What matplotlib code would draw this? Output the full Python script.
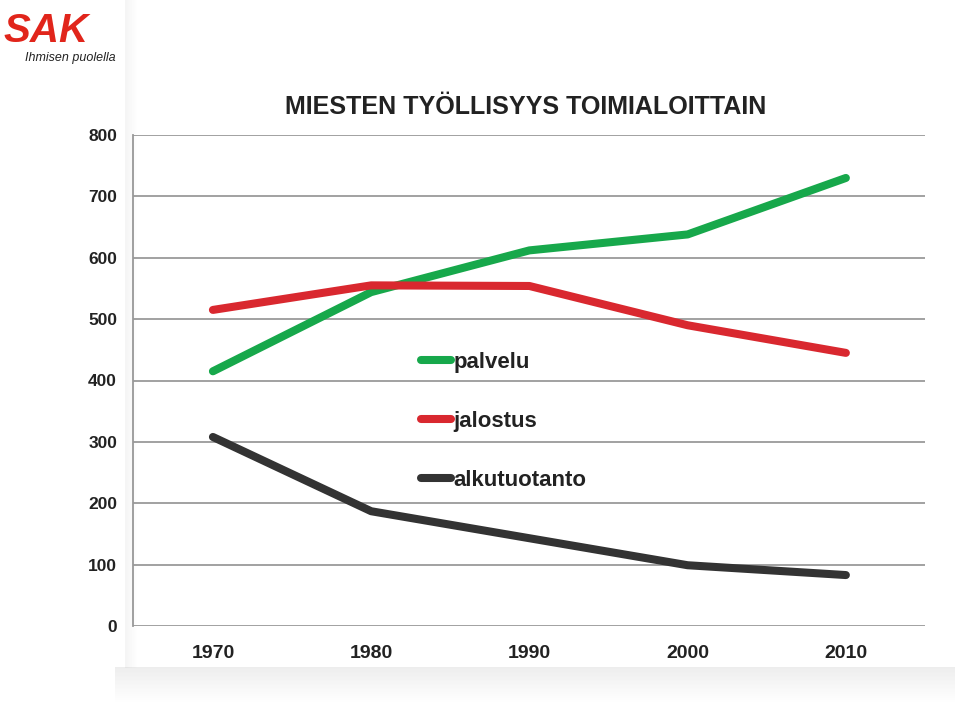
import matplotlib
matplotlib.use("Agg")
import matplotlib.pyplot as plt
from matplotlib.patches import Rectangle
import numpy as np

years = [1970, 1980, 1990, 2000, 2010]
palvelu = [415, 544, 612, 638, 730]
jalostus = [515, 555, 554, 490, 445]
alkutuotanto = [308, 187, 143, 99, 83]
series_names = ["palvelu", "jalostus", "alkutuotanto"]
y_ticks = [0, 100, 200, 300, 400, 500, 600, 700, 800]
title = "MIESTEN TYÖLLISYYS TOIMIALOITTAIN"

colors = ["#17a84b", "#d9282f", "#333333"]

plt.rcParams['font.family'] = ['Liberation Sans', 'DejaVu Sans']

fig = plt.figure(figsize=(9.6, 7.12), dpi=100)
fig.patch.set_facecolor("white")

# paper shadow decorations (figure coords)
W, H = 960, 712
for i in range(12):
    a = 0.06 * (1 - i / 12)
    fig.patches.append(Rectangle(((137 - 12 + i) / W, (712 - 668) / H), 1 / W, 668 / H,
                                 transform=fig.transFigure, color="#555555", alpha=a, lw=0, zorder=0))
for i in range(35):
    a = 0.10 * (1 - i / 35)
    fig.patches.append(Rectangle((115 / W, (712 - 668 - i) / H), (955 - 115) / W, 1 / H,
                                 transform=fig.transFigure, color="#555555", alpha=a, lw=0, zorder=0))

ax = fig.add_axes([133 / W, (712 - 626) / H, 792 / W, 491 / H])
ax.set_facecolor("none")

ax.set_xlim(1964.95, 2015.0)
ax.set_ylim(0, 800)

for s, vals, c in zip(series_names, [palvelu, jalostus, alkutuotanto], colors):
    ax.plot(years, vals, color=c, lw=5.8, solid_capstyle="round", solid_joinstyle="round",
            label=s, zorder=3)

ax.set_yticks(y_ticks)
ax.set_yticklabels([str(v) for v in y_ticks], fontsize=12.5, fontweight="bold", color="#222222")
ax.set_xticks(years)
ax.set_xticklabels([str(y) for y in years], fontsize=14, fontweight="bold", color="#222222")
ax.tick_params(axis="both", length=0)
ax.tick_params(axis="y", pad=11.5)
ax.tick_params(axis="x", pad=14)

ax.grid(axis="y", color="#9a9a9a", lw=1.3)
ax.set_axisbelow(True)
for sp in ["top", "right", "bottom"]:
    ax.spines[sp].set_visible(False)
ax.spines["left"].set_color("#9a9a9a")
ax.spines["left"].set_linewidth(1.3)

leg = ax.legend(loc="upper left", bbox_to_anchor=(0.338, 0.599), frameon=False,
                prop={"size": 16, "weight": "bold"}, handlelength=1.35, handletextpad=0.12,
                labelspacing=1.71)
for t in leg.get_texts():
    t.set_color("#222222")

fig.text(285 / W, 1 - 107 / H, title, fontsize=18.1, fontweight="bold", color="#222222",
         ha="left", va="center")

# logo
fig.text(4 / W, 1 - 31 / H, "SAK", fontsize=29, fontweight="bold", style="italic",
         color="#e1251b", ha="left", va="center")
fig.text(25 / W, 1 - 58 / H, "Ihmisen puolella", fontsize=9, style="italic",
         color="#222222", ha="left", va="center")

fig.savefig("out.png", dpi=100)
